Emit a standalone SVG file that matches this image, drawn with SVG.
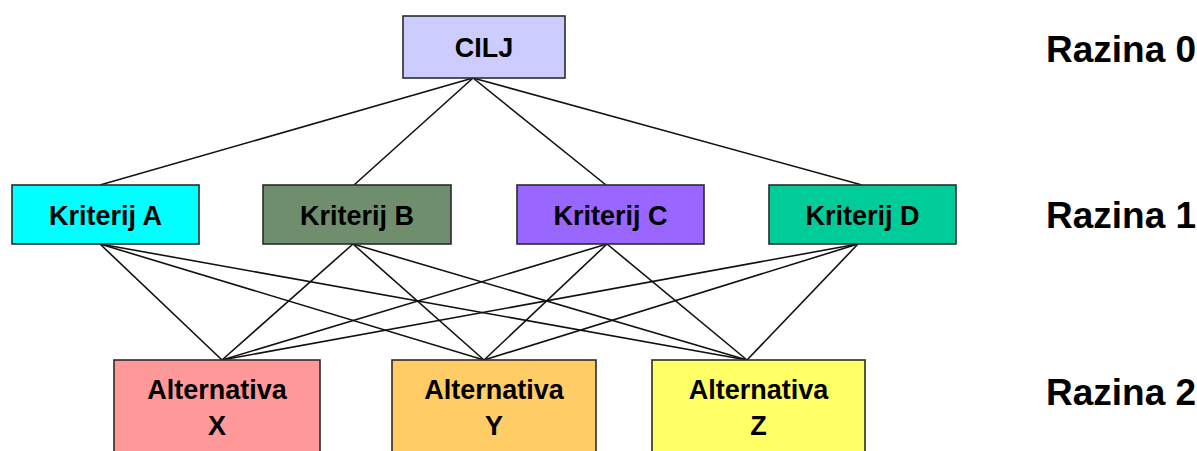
<svg xmlns="http://www.w3.org/2000/svg" width="1197" height="451" viewBox="0 0 1197 451">
<style>
.box{stroke:#2b2b2b;stroke-width:1.6}
.t{font-family:"Liberation Sans",Arial,sans-serif;font-weight:bold;font-size:27px;text-anchor:middle;fill:#000}
.lvl{font-family:"Liberation Sans",Arial,sans-serif;font-weight:bold;font-size:37px;fill:#000}
.c line{stroke:#111;stroke-width:1.6}
</style>
<rect width="1197" height="451" fill="#fff"/>
<g class="c" id="connectors">
<line x1="473" y1="78" x2="100" y2="185"/>
<line x1="473" y1="78" x2="354" y2="185"/>
<line x1="473" y1="78" x2="606" y2="185"/>
<line x1="473" y1="78" x2="862" y2="185"/>
<line x1="100" y1="244" x2="222" y2="360"/>
<line x1="100" y1="244" x2="484" y2="360"/>
<line x1="100" y1="244" x2="747" y2="360"/>
<line x1="353" y1="244" x2="222" y2="360"/>
<line x1="353" y1="244" x2="484" y2="360"/>
<line x1="353" y1="244" x2="747" y2="360"/>
<line x1="607" y1="244" x2="222" y2="360"/>
<line x1="607" y1="244" x2="484" y2="360"/>
<line x1="607" y1="244" x2="747" y2="360"/>
<line x1="858" y1="244" x2="222" y2="360"/>
<line x1="858" y1="244" x2="484" y2="360"/>
<line x1="858" y1="244" x2="747" y2="360"/>
</g>
<g id="cilj"><rect class="box" x="403" y="16" width="162" height="62" fill="#CCCCFF"/><text class="t" x="484" y="57">CILJ</text></g>
<g id="kriterijA"><rect class="box" x="12" y="185" width="187" height="59" fill="#00FFFF"/><text class="t" x="105.5" y="225">Kriterij A</text></g>
<g id="kriterijB"><rect class="box" x="263" y="185" width="188" height="59" fill="#6E8E6E"/><text class="t" x="357" y="225">Kriterij B</text></g>
<g id="kriterijC"><rect class="box" x="517" y="185" width="187" height="59" fill="#9966FF"/><text class="t" x="610.5" y="225">Kriterij C</text></g>
<g id="kriterijD"><rect class="box" x="769" y="185" width="187" height="59" fill="#00CC99"/><text class="t" x="862.5" y="225">Kriterij D</text></g>
<g id="altX"><rect class="box" x="114" y="360" width="206" height="100" fill="#FF9999"/><text class="t" x="217" y="399">Alternativa</text><text class="t" x="217" y="435">X</text></g>
<g id="altY"><rect class="box" x="392" y="360" width="204" height="100" fill="#FFCC66"/><text class="t" x="494" y="399">Alternativa</text><text class="t" x="494" y="435">Y</text></g>
<g id="altZ"><rect class="box" x="652" y="360" width="213" height="100" fill="#FFFF66"/><text class="t" x="758.5" y="399">Alternativa</text><text class="t" x="758.5" y="435">Z</text></g>
<g id="levels">
<text class="lvl" x="1046" y="62">Razina 0</text>
<text class="lvl" x="1046" y="228">Razina 1</text>
<text class="lvl" x="1046" y="405">Razina 2</text>
</g>
</svg>
